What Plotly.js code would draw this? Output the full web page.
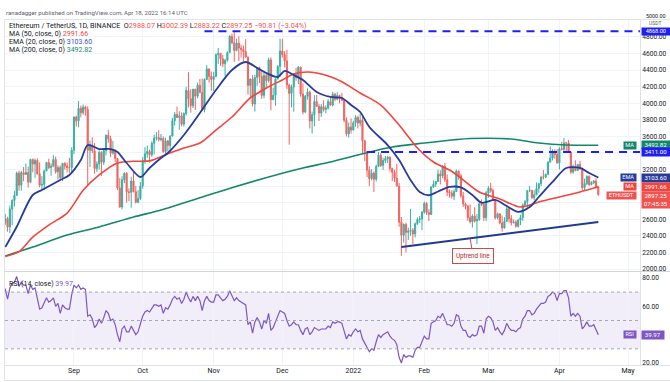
<!DOCTYPE html>
<html><head><meta charset="utf-8">
<script src="https://cdn.plot.ly/plotly-3.0.1.min.js"></script>
<style>html,body{margin:0;padding:0;background:#fff}#chart{width:670px;height:382px}</style>
</head><body><div id="chart"></div>
<script>
// ---------------- DATA ----------------
const startDate = '2021-08-01';
const open = [
2530,2557,2608,2507,2724,2827,2890,3157,3012,3163,3141,3164,3048,3322,3266,3310,3148,3012,3021,3184,3285,3224,3242,3322,3174,3225,3103,3275,3244,3226,3225,
3433,3834,3788,3939,3887,3953,3926,3432,3497,3427,3212,3267,3407,3287,3429,3613,3571,3398,3433,3333,2977,2749,3077,3155,2931,2925,3062,2933,2807,2850,
3001,3307,3391,3418,3380,3518,3580,3587,3561,3576,3417,3546,3491,3605,3790,3865,3829,3847,3748,3877,4154,4055,3971,4169,4085,4217,4131,3923,4288,4414,4324,
4288,4322,4587,4603,4536,4476,4518,4611,4807,4731,4637,4726,4667,4647,4623,4557,4216,4293,3992,4311,4431,4323,4095,4336,4273,4524,4044,4096,4294,4445,
4631,4587,4511,4220,4119,4198,4346,4308,4435,4111,3895,4084,4135,3786,3861,4021,3963,3882,3959,3925,3941,4019,3979,4109,4048,4094,4067,4036,3794,3630,3712,
3676,3765,3829,3762,3795,3548,3418,3193,3091,3157,3083,3238,3372,3250,3310,3331,3351,3213,3167,3096,3001,2565,2406,2537,2442,2459,2468,2423,2547,2598,2604,
2687,2791,2681,2659,2989,3022,3056,3145,3122,3240,3077,2927,2916,2879,2934,3182,3124,2884,2784,2762,2619,2569,2640,2579,2598,2786,2779,2619,
2919,2973,2948,2836,2617,2665,2555,2495,2575,2728,2607,2557,2567,2515,2591,2619,2772,2813,2944,2949,2860,2896,2971,3030,3108,3107,3143,3291,3338,3400,3383,
3281,3451,3444,3522,3521,3410,3169,3232,3188,3261,3208,2980,3031,3118,3018,3042,3061,2988.07];
const high = [
2700,2665,2630,2767,2842,2944,3175,3186,3185,3231,3273,3236,3330,3333,3333,3335,3287,3120,3199,3294,3331,3275,3374,3358,3250,3250,3280,3290,3285,3340,3470,
3840,3850,4027,3972,3985,3970,3963,3550,3590,3519,3300,3432,3420,3448,3625,3679,3608,3545,3445,3340,3097,3120,3165,3170,2974,3113,3170,3000,2950,3050,
3350,3470,3490,3440,3540,3622,3652,3675,3629,3600,3585,3557,3614,3823,3896,3960,3905,3890,3890,4198,4375,4170,4174,4175,4250,4294,4300,4300,4460,4419,4383,
4380,4600,4666,4607,4584,4538,4629,4822,4838,4868,4779,4809,4707,4697,4775,4565,4300,4340,4345,4440,4442,4400,4390,4372,4550,4554,4188,4300,4460,4780,
4778,4630,4646,4236,4225,4349,4428,4450,4442,4240,4100,4180,4150,3900,4098,4100,3990,3990,4035,3975,4050,4070,4138,4125,4135,4105,4125,4045,3830,3768,3817,
3788,3855,3850,3876,3850,3560,3420,3240,3206,3178,3260,3412,3400,3343,3365,3365,3355,3223,3196,3270,3040,2628,2550,2560,2500,2725,2495,2560,2620,2640,2700,
2815,2810,2720,3000,3070,3060,3200,3190,3255,3280,3140,2960,2950,2960,3200,3190,3150,2930,2800,2770,2780,2660,2745,2665,2800,2840,2810,2940,
3000,3040,2970,2845,2680,2675,2646,2625,2765,2730,2650,2595,2590,2600,2655,2790,2830,2955,3000,2950,2950,3045,3040,3125,3195,3150,3296,3480,3445,3445,3445,
3470,3535,3580,3535,3555,3412,3260,3310,3270,3305,3222,3090,3130,3130,3060,3075,3095,3002.39];
const low = [
2517,2531,2450,2434,2530,2755,2880,2944,2946,3060,3132,2982,3036,3166,3100,3138,2986,2953,2951,3180,3206,3125,3230,3150,3080,3075,3060,3200,3165,3160,3150,
3387,3720,3710,3830,3860,3850,3010,3230,3400,3150,3171,3202,3125,3255,3370,3525,3350,3380,3290,2954,2738,2720,3035,2800,2820,2740,2925,2790,2793,2830,
2970,3270,3343,3282,3353,3383,3550,3540,3540,3401,3370,3418,3400,3600,3730,3820,3680,3721,3719,3850,3950,3887,3943,3920,4060,4120,3905,3890,4280,4250,4150,
4150,4321,4475,4451,4436,4330,4502,4607,4712,4500,4627,4510,4553,4510,4550,4105,4061,3961,3900,4210,4245,4053,4060,4175,4250,3915,4036,3970,4288,4320,
4550,4433,4170,3500,3950,3900,4272,4231,4080,3866,3880,4043,3695,3634,3720,3955,3785,3835,3900,3880,3925,3968,3960,4025,4035,4000,4030,3770,3600,3585,3635,
3675,3716,3696,3722,3400,3300,3110,3000,3070,2928,3056,3230,3230,3196,3276,3280,3175,3060,3050,2995,2510,2159,2320,2200,2350,2400,2300,2380,2530,2555,2470,
2667,2653,2580,2650,2980,2990,3050,3020,3095,3050,2880,2860,2850,2830,2930,3078,2860,2750,2720,2580,2550,2500,2560,2300,2580,2760,2580,2580,
2860,2920,2820,2600,2600,2540,2450,2490,2570,2560,2525,2550,2500,2500,2530,2580,2760,2740,2930,2845,2830,2892,2920,3000,3080,3100,3130,3280,3310,3330,3270,
3200,3430,3425,3400,3400,3150,3150,3180,3187,3200,2950,2950,3010,3000,3010,3025,2975,2883.22];
const close = [
2557,2608,2507,2724,2827,2890,3157,3012,3163,3141,3164,3048,3322,3266,3310,3148,3012,3021,3184,3285,3224,3242,3322,3174,3225,3103,3275,3244,3226,3225,3433,
3834,3788,3939,3887,3953,3926,3432,3497,3427,3212,3267,3407,3287,3429,3613,3571,3398,3433,3333,2977,2749,3077,3155,2931,2925,3062,2933,2807,2850,3001,
3307,3391,3418,3380,3518,3580,3587,3561,3576,3417,3546,3491,3605,3790,3865,3829,3847,3748,3877,4154,4055,3971,4169,4085,4217,4131,3923,4288,4414,4324,4288,
4322,4587,4603,4536,4476,4518,4611,4807,4731,4637,4726,4667,4647,4623,4557,4216,4293,3992,4311,4431,4323,4095,4336,4273,4524,4044,4096,4294,4445,4631,
4587,4511,4220,4119,4198,4346,4308,4435,4111,3895,4084,4135,3786,3861,4021,3963,3882,3959,3925,3941,4019,3979,4109,4048,4094,4067,4036,3794,3630,3712,3676,
3765,3829,3762,3795,3548,3418,3193,3091,3157,3083,3238,3372,3250,3310,3331,3351,3213,3167,3096,3001,2565,2406,2537,2442,2459,2468,2423,2547,2598,2604,2687,
2791,2681,2659,2989,3022,3056,3145,3122,3240,3077,2927,2916,2879,2934,3182,3124,2884,2784,2762,2619,2569,2640,2579,2598,2786,2779,2619,2919,
2973,2948,2836,2617,2665,2555,2495,2575,2728,2607,2557,2567,2515,2591,2619,2772,2813,2944,2949,2860,2896,2971,3030,3108,3107,3143,3291,3338,3400,3383,3281,
3451,3444,3522,3521,3410,3169,3232,3188,3261,3208,2980,3031,3118,3018,3042,3061,2988.06,2897.25];
const rsi = [
71,72,65,73,76,77,81,74,77,75,75,69,75,72,73,66,58,59,63,66,63,64,66,60,62,55,61,59,58,58,68,
75,73,75,72,73,72,53,54,51,45,47,51,48,52,57,55,50,51,47,40,35,44,46,42,42,46,43,40,42,47,
53,56,57,56,59,61,61,60,61,55,59,58,61,65,67,65,66,62,65,70,66,63,67,64,67,64,57,64,67,64,63,
63,68,68,66,64,65,67,71,68,64,66,64,63,62,61,47,49,41,49,52,49,44,50,48,55,43,45,49,53,57,
56,55,50,46,47,49,47,47,43,40,44,45,40,42,45,44,43,44,44,44,46,45,49,48,49,49,48,42,37,40,39,
42,44,42,43,37,34,30,28,30,29,35,40,38,40,41,42,39,37,36,33,24,20,26,24,25,25,24,29,31,31,35,
39,37,37,48,49,50,53,52,55,51,47,47,46,48,54,53,46,43,43,39,38,40,39,40,46,46,41,51,
53,52,49,43,45,42,40,43,48,45,43,43,42,44,45,51,53,57,57,54,55,58,60,62,62,63,67,68,70,69,64,
69,69,71,71,66,53,55,53,55,53,44,46,49,46,46,47,44,39.97];

const ma50Dates = ['2021-08-02','2021-08-08','2021-08-14','2021-08-21','2021-08-29','2021-09-05','2021-09-12','2021-09-20','2021-09-27','2021-10-04','2021-10-12','2021-10-19','2021-10-26','2021-11-02','2021-11-09','2021-11-17','2021-11-24','2021-12-01','2021-12-06','2021-12-12','2021-12-16','2021-12-22','2021-12-27','2022-01-04','2022-01-13','2022-01-21','2022-01-29','2022-02-05','2022-02-12','2022-02-17','2022-02-25','2022-03-06','2022-03-15','2022-03-23','2022-04-01','2022-04-10','2022-04-18'];
const ma50 = [2150,2210,2385,2530,2675,2950,3135,3280,3300,3305,3390,3460,3520,3677,3834,4064,4184,4281,4353,4377,4365,4320,4260,4124,3979,3738,3460,3291,3195,3098,2929,2845,2748,2808,2869,2929,2991.66];

const ema20Dates = ['2021-08-02','2021-08-07','2021-08-14','2021-08-18','2021-08-26','2021-08-30','2021-09-04','2021-09-07','2021-09-12','2021-09-17','2021-09-20','2021-09-24','2021-09-30','2021-10-04','2021-10-09','2021-10-12','2021-10-19','2021-10-26','2021-11-02','2021-11-09','2021-11-15','2021-11-20','2021-11-24','2021-11-29','2021-12-02','2021-12-06','2021-12-10','2021-12-16','2021-12-22','2021-12-27','2021-12-31','2022-01-04','2022-01-08','2022-01-16','2022-01-21','2022-01-26','2022-01-30','2022-02-03','2022-02-07','2022-02-12','2022-02-17','2022-02-22','2022-02-26','2022-03-04','2022-03-09','2022-03-14','2022-03-19','2022-03-23','2022-03-29','2022-04-04','2022-04-10','2022-04-14','2022-04-18'];
const ema20 = [2265,2510,2893,2953,3074,3135,3315,3496,3448,3448,3412,3279,3110,3219,3340,3400,3617,3883,4160,4402,4498,4426,4365,4317,4390,4341,4281,4136,4076,4064,3979,3895,3714,3496,3315,3074,2929,2890,2935,2990,2985,2893,2800,2833,2760,2690,2748,2869,3050,3219,3219,3158,3103.60];

const ma200Dates = ['2021-08-02','2021-08-14','2021-08-29','2021-09-12','2021-09-27','2021-10-09','2021-10-25','2021-11-10','2021-12-01','2021-12-10','2021-12-22','2022-01-03','2022-01-18','2022-02-01','2022-02-14','2022-02-21','2022-03-11','2022-03-23','2022-04-04','2022-04-18'];
const ma200 = [2157,2265,2410,2507,2627,2712,2850,2990,3156,3219,3291,3376,3472,3520,3560,3575,3569,3520,3496,3492.82];

const levelValues = [4868, 3411];
const levelStarts = ['2021-10-28', '2022-01-07'];
const trendDates = ['2022-01-22', '2022-04-18'];
const trendValues = [2265, 2567];
const rsiLevels = [70, 50, 30];

const priceTicks = [2000,2200,2400,2600,2800,3000,3200,3400,3600,3800,4000,4200,4400,4600,4800,5000];
const priceTickLabels = ['2000.00','2200.00','2400.00','2600.00','','','3200.00','','3600.00','3800.00','4000.00','4200.00','4400.00','4600.00','4800.00',''];
const topTickLabel = '5000.00';
const rsiTicks = [20,40,60,80];
const rsiTickLabels = ['20.00','','60.00','80.00'];
const monthTicks = ['2021-09-01','2021-10-01','2021-11-01','2021-12-01','2022-01-01','2022-02-01','2022-03-01','2022-04-01','2022-05-01'];
const monthLabels = ['Sep','Oct','Nov','Dec','2022','Feb','Mar','Apr','May'];
const countdown = '07:45:35';

// ---------------- BUILD ----------------
const t0 = new Date(startDate + 'T00:00:00Z');
const dates = close.map((_, i) => { const d = new Date(t0); d.setUTCDate(d.getUTCDate() + i); return d.toISOString().slice(0, 10); });
const n = close.length - 1;
const f2 = v => Number(v).toFixed(2);

const NAVY = '#283c9a', TEAL = '#13876d', MARED = '#f2453d', BLUE = '#1f1ff0', PURPLE = '#7e57c2', RED = '#ef5350';
const FONT = 'Roboto, "Open Sans", Arial, sans-serif';
const TXT = '#131722';

const py = p => (365 - p) / 345;
const px = p => (p - 5) / 635;

const traces = [
  {type:'candlestick', x:dates, open, high, low, close, xaxis:'x', yaxis:'y',
   increasing:{line:{color:'#3bb0a5', width:1}, fillcolor:'#3bb0a5'},
   decreasing:{line:{color:'#f26461', width:1}, fillcolor:'#f26461'},
   whiskerwidth:0, hoverinfo:'skip', showlegend:false},
  {type:'scatter', mode:'lines', x:ma200Dates, y:ma200, line:{color:TEAL, width:1.6, shape:'spline', smoothing:0.8}, hoverinfo:'skip', showlegend:false},
  {type:'scatter', mode:'lines', x:ma50Dates, y:ma50, line:{color:MARED, width:1.6, shape:'spline', smoothing:0.8}, hoverinfo:'skip', showlegend:false},
  {type:'scatter', mode:'lines', x:ema20Dates, y:ema20, line:{color:NAVY, width:1.8, shape:'spline', smoothing:0.8}, hoverinfo:'skip', showlegend:false},
  {type:'scatter', mode:'lines', x:trendDates, y:trendValues, line:{color:'#213a8c', width:2}, hoverinfo:'skip', showlegend:false}
];
levelValues.forEach((v, i) => traces.push({type:'scatter', mode:'lines', x:[levelStarts[i], '2022-06-30'], y:[v, v],
  line:{color:BLUE, width:2, dash:'8px,6px'}, hoverinfo:'skip', showlegend:false}));
traces.push({type:'scatter', mode:'lines', x:dates, y:rsi, xaxis:'x', yaxis:'y2', line:{color:PURPLE, width:1.2}, hoverinfo:'skip', showlegend:false});

const shapes = [
  {type:'rect', xref:'paper', yref:'y2', x0:0, x1:1, y0:rsiLevels[2], y1:rsiLevels[0], fillcolor:'rgba(126,87,194,0.10)', line:{width:0}, layer:'below'},
  ...rsiLevels.map(v => ({type:'line', xref:'paper', yref:'y2', x0:0, x1:1, y0:v, y1:v, line:{color:'#a3a6af', width:1, dash:'3px,3px'}})),
  {type:'line', xref:'paper', yref:'paper', x0:px(4), x1:px(670), y0:py(271.5), y1:py(271.5), line:{color:'#d1d4dc', width:1}},
  {type:'line', xref:'paper', yref:'paper', x0:px(4), x1:px(670), y0:py(19.5), y1:py(19.5), line:{color:'#e0e3eb', width:1}},
  {type:'line', xref:'paper', yref:'paper', x0:px(4), x1:px(670), y0:py(365.5), y1:py(365.5), line:{color:'#e0e3eb', width:1}},
  {type:'line', xref:'paper', yref:'paper', x0:px(4), x1:px(670), y0:py(380.5), y1:py(380.5), line:{color:'#e0e3eb', width:1}},
  {type:'line', xref:'paper', yref:'paper', x0:px(4.5), x1:px(4.5), y0:py(19.5), y1:py(380.5), line:{color:'#e0e3eb', width:1}}
];

const ann = [];
const txt = (x, y, text, size, color, anchor) => ann.push({xref:'paper', yref:'paper', x:px(x), y:py(y), text, showarrow:false,
  xanchor:anchor || 'left', yanchor:'middle', font:{family:FONT, size, color}});
const sp = (c, t) => `<span style="color:${c}">${t}</span>`;
const chg = close[n] - close[n-1];
txt(4, 12.5, 'ranadagger published on TradingView.com, Apr 18, 2022 16:14 UTC', 6.1, '#5d606b');
txt(7, 25.5, `Ethereum / TetherUS, 1D, BINANCE  O${sp(RED, f2(open[n]))} H${sp(RED, f2(high[n]))} L${sp(RED, f2(low[n]))} C${sp(RED, f2(close[n]))} ${sp(RED, '\u2212' + f2(-chg) + ' (\u2212' + f2(-chg / close[n-1] * 100) + '%)')}`, 7.2, TXT);
txt(7, 33.8, `MA (50, close, 0) ${sp(MARED, f2(ma50[ma50.length-1]))}`, 7, TXT);
txt(7, 41.8, `EMA (20, close, 0) ${sp('#3a52c4', f2(ema20[ema20.length-1]))}`, 7, TXT);
txt(7, 49.8, `MA (200, close, 0) ${sp(TEAL, f2(ma200[ma200.length-1]))}`, 7, TXT);
txt(7, 284, `RSI (14, close) ${sp(PURPLE, f2(rsi[n]))}`, 7, TXT);
txt(644, 16.5, topTickLabel, 5.4, TXT);
txt(655, 23.2, 'USDT', 5, '#5d606b', 'center');

const valTag = (yref, y, text, bg, opts={}) => ann.push(Object.assign({xref:'paper', yref, x:1, y, xanchor:'left', yanchor:'middle',
  xshift:1, text, showarrow:false, bgcolor:bg, borderpad:0.3, width:27, align:'center', font:{family:FONT, size:6.1, color:'#ffffff'}}, opts));
const nameTag = (yref, y, text, bg, w, opts={}) => ann.push(Object.assign({xref:'paper', yref, x:1, y, xanchor:'right', yanchor:'middle',
  xshift:-3, text, showarrow:false, bgcolor:bg, borderpad:0.3, width:w, align:'center', font:{family:FONT, size:5.6, color:'#ffffff'}}, opts));

valTag('y', levelValues[0], f2(levelValues[0]), BLUE, {yshift:-0.5, font:{family:FONT, size:5.6, color:'#ffffff'}});
valTag('y', ma200[ma200.length-1], f2(ma200[ma200.length-1]), TEAL);
nameTag('y', ma200[ma200.length-1], 'MA', TEAL, 11);
valTag('y', levelValues[1], f2(levelValues[1]), BLUE);
valTag('y', ema20[ema20.length-1], f2(ema20[ema20.length-1]), NAVY);
nameTag('y', ema20[ema20.length-1], 'EMA', NAVY, 14);
valTag('y', ma50[ma50.length-1], f2(ma50[ma50.length-1]), MARED);
nameTag('y', ma50[ma50.length-1], 'MA', MARED, 11);
valTag('y', close[n], f2(close[n]) + '<br>' + countdown, RED, {yanchor:'top', yshift:4});
nameTag('y', close[n], 'ETHUSDT', RED, 28, {yanchor:'top', yshift:4});
valTag('y2', rsi[n], f2(rsi[n]), PURPLE, {width:21});
nameTag('y2', rsi[n], 'RSI', PURPLE, 11);

// uptrend line callout
ann.push({xref:'x', yref:'y', x:'2022-02-21', y:2368, text:'Uptrend line', showarrow:true, arrowhead:0, arrowwidth:1, arrowcolor:'#c0504d',
  ax:3, ay:17, bgcolor:'#fffafa', bordercolor:'#c0504d', borderwidth:1, borderpad:3, font:{family:FONT, size:6.3, color:'#a3322f'}});

const layout = {
  width:670, height:382, margin:{l:5, r:30, t:20, b:17},
  paper_bgcolor:'#ffffff', plot_bgcolor:'#ffffff', showlegend:false, dragmode:false,
  xaxis:{type:'date', range:['2021-08-01 21:00', '2022-05-06 05:00'], anchor:'y2', tickvals:monthTicks, ticktext:monthLabels,
    showgrid:true, gridcolor:'#f0f3fa', gridwidth:1, zeroline:false, showline:false, ticks:'',
    tickfont:{family:FONT, size:7, color:TXT}, rangeslider:{visible:false}, fixedrange:true},
  yaxis:{domain:[0.2725, 1], range:[1976, 5005], side:'right', tickvals:priceTicks, ticktext:priceTickLabels,
    showgrid:true, gridcolor:'#f0f3fa', zeroline:false, showline:true, linecolor:'#e0e3eb', ticks:'',
    tickfont:{family:FONT, size:6.6, color:TXT}, fixedrange:true},
  yaxis2:{domain:[0, 0.2696], range:[18.6, 84.2], side:'right', tickvals:rsiTicks, ticktext:rsiTickLabels,
    showgrid:false, zeroline:false, showline:true, linecolor:'#e0e3eb', ticks:'',
    tickfont:{family:FONT, size:6.6, color:TXT}, fixedrange:true},
  shapes, annotations:ann
};
Plotly.newPlot('chart', traces, layout, {displayModeBar:false, staticPlot:true});
</script>
</body></html>
